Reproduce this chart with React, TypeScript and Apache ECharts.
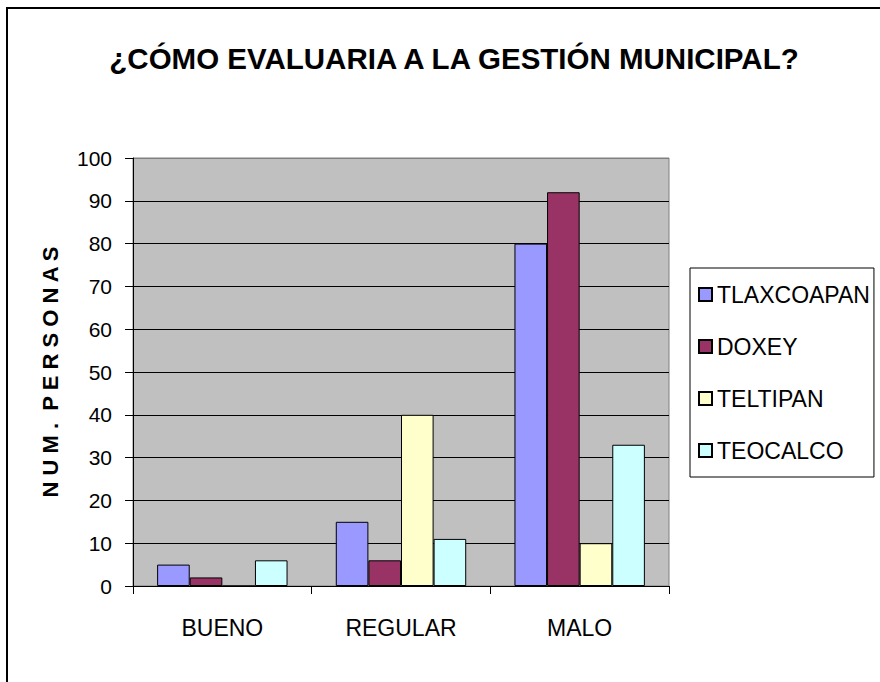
import React, { useEffect, useRef } from "react";
import * as echarts from "echarts";

const categories = ["BUENO", "REGULAR", "MALO"];
const seriesNames = ["TLAXCOAPAN", "DOXEY", "TELTIPAN", "TEOCALCO"];
const tlaxcoapan = [5, 15, 80];
const doxey = [2, 6, 92];
const teltipan = [0, 40, 10];
const teocalco = [6, 11, 33];
const seriesColors = ["#9999FF", "#993366", "#FFFFCC", "#CCFFFF"];
const yTicks = { min: 0, max: 100, interval: 10 };

const FONT = "'Liberation Sans', Arial, sans-serif";

export default function App() {
  const ref = useRef<HTMLDivElement>(null);
  useEffect(() => {
    if (!ref.current) return;
    const chart = echarts.init(ref.current, null, { renderer: "svg" });
    const values = [tlaxcoapan, doxey, teltipan, teocalco];
    const splitColors = Array.from({ length: 11 }, (_, i) => (i === 10 ? "#808080" : "#000000"));
    chart.setOption({
      animation: false,
      backgroundColor: "#ffffff",
      title: {
        text: "¿CÓMO EVALUARIA A LA GESTIÓN MUNICIPAL?",
        left: 449,
        top: 38,
        textAlign: "center",
        textStyle: { fontFamily: FONT, fontSize: 29.5, fontWeight: "bold", color: "#000" },
      },
      graphic: [
        {
          type: "rect",
          shape: { x: 7, y: 8, width: 885, height: 690 },
          style: { fill: "none", stroke: "#000", lineWidth: 2 },
          silent: true,
          z: 100,
        },
      ],
      grid: {
        left: 133,
        right: 211,
        top: 158,
        bottom: 96,
        show: true,
        backgroundColor: "#C0C0C0",
        borderColor: "#808080",
        borderWidth: 1,
        outerBoundsMode: "none",
      },
      legend: {
        orient: "vertical",
        left: 690,
        top: 268,
        padding: [15, 4, 15, 8],
        itemWidth: 13,
        itemHeight: 13,
        itemGap: 29,
        backgroundColor: "#fff",
        borderColor: "#000",
        borderWidth: 1,
        borderRadius: 0,
        icon: "rect",
        textStyle: { fontFamily: FONT, fontSize: 23, color: "#000", lineHeight: 23 },
        data: seriesNames,
      },
      xAxis: {
        type: "category",
        data: categories,
        axisLine: { show: true, lineStyle: { color: "#000", width: 1 } },
        axisTick: { show: true, length: 8, lineStyle: { color: "#000" } },
        axisLabel: { fontFamily: FONT, fontSize: 23, color: "#000", margin: 30 },
        splitLine: { show: false },
      },
      yAxis: {
        type: "value",
        min: yTicks.min,
        max: yTicks.max,
        interval: yTicks.interval,
        name: "N U M .  P E R S O N A S",
        nameLocation: "middle",
        nameRotate: 90,
        nameGap: 72,
        nameTextStyle: { fontFamily: FONT, fontSize: 22, fontWeight: "bold", color: "#000" },
        axisLine: { show: true, lineStyle: { color: "#000", width: 1 } },
        axisTick: { show: true, length: 8, lineStyle: { color: "#000" } },
        axisLabel: { fontFamily: FONT, fontSize: 21, color: "#000", margin: 21 },
        splitLine: { show: true, lineStyle: { color: splitColors, width: 1 } },
      },
      series: seriesNames.map((name, i) => ({
        name,
        type: "bar",
        data: values[i],
        barGap: "0%",
        barCategoryGap: "27%",
        itemStyle: { color: seriesColors[i], borderColor: "#000", borderWidth: 1 },
      })),
    });
    return () => chart.dispose();
  }, []);
  return (
    <div
      ref={ref}
      style={{ position: "absolute", left: 0, top: 0, width: 880, height: 682 }}
    />
  );
}
